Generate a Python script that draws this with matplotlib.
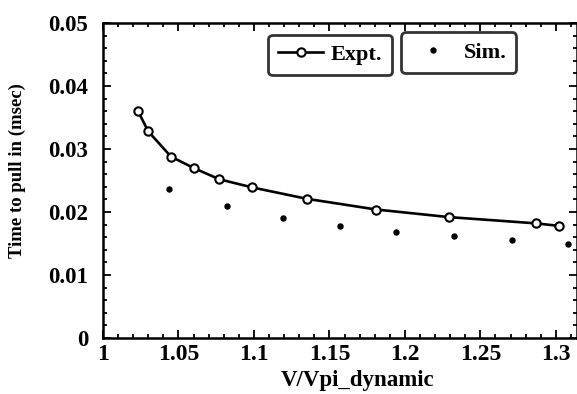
import matplotlib
matplotlib.use("Agg")
import matplotlib.pyplot as plt
from matplotlib.ticker import MultipleLocator

# Measured pull-in times
expt_v = [1.023, 1.030, 1.045, 1.060, 1.077, 1.099, 1.135, 1.181, 1.229, 1.287, 1.302]
expt_t = [0.0361, 0.0328, 0.0288, 0.0270, 0.0252, 0.0239, 0.0221, 0.0204, 0.0192, 0.0182, 0.0178]

# Simulated pull-in times
sim_v = [1.044, 1.082, 1.119, 1.157, 1.194, 1.2325, 1.271, 1.308]
sim_t = [0.0237, 0.0209, 0.0191, 0.0178, 0.0169, 0.0162, 0.0156, 0.0150]

x_ticks = [1.0, 1.05, 1.1, 1.15, 1.2, 1.25, 1.3]
x_tick_labels = ["1", "1.05", "1.1", "1.15", "1.2", "1.25", "1.3"]
y_ticks = [0.0, 0.01, 0.02, 0.03, 0.04, 0.05]
y_tick_labels = ["0", "0.01", "0.02", "0.03", "0.04", "0.05"]

plt.rcParams["font.family"] = ["Liberation Serif", "DejaVu Serif"]
plt.rcParams["font.weight"] = "bold"

fig = plt.figure(figsize=(5.77, 3.94), dpi=100)
ax = fig.add_axes([0.1785, 0.142, 0.8215, 0.7996])

line_expt, = ax.plot(expt_v, expt_t, color="black", lw=1.9, marker="o",
                     markersize=6, markerfacecolor="white",
                     markeredgecolor="black", markeredgewidth=1.5,
                     label="Expt.")
line_sim, = ax.plot(sim_v, sim_t, linestyle="none", marker="o",
                    markersize=3.6, color="black", label="Sim.")

ax.set_xlim(1.0, 1.314)
ax.set_ylim(0.0, 0.05)
ax.set_xticks(x_ticks)
ax.set_xticklabels(x_tick_labels)
ax.set_yticks(y_ticks)
ax.set_yticklabels(y_tick_labels)
ax.xaxis.set_minor_locator(MultipleLocator(0.01))
ax.yaxis.set_minor_locator(MultipleLocator(0.002))

ax.tick_params(which="both", direction="in", top=True, right=True, width=1.3)
ax.tick_params(axis="x", labelsize=17, pad=4)
ax.tick_params(axis="y", labelsize=16.5, pad=10.5)
ax.tick_params(which="major", length=6)
ax.tick_params(which="minor", length=3)
for lbl in ax.get_xticklabels() + ax.get_yticklabels():
    lbl.set_fontweight("bold")
for sp in ax.spines.values():
    sp.set_linewidth(1.8)

ax.set_xlabel("V/Vpi_dynamic", fontsize=16.5, fontweight="bold")
ax.xaxis.set_label_coords(0.538, -0.1)
ax.set_ylabel("Time to pull in (msec)", fontsize=13.5, fontweight="bold")
ax.yaxis.set_label_coords(-0.162, 0.533)

leg_kw = dict(fontsize=16, frameon=True, fancybox=True, borderpad=0.45,
              handlelength=2.0, handletextpad=0.35, borderaxespad=0.0,
              loc="upper left")
leg1 = ax.legend(handles=[line_expt], bbox_to_anchor=(0.349, 0.963), **leg_kw)
leg1.get_frame().set_edgecolor("black")
leg1.get_frame().set_linewidth(2.0)
ax.add_artist(leg1)
leg2 = ax.legend(handles=[line_sim], bbox_to_anchor=(0.629, 0.97), **leg_kw)
leg2.get_frame().set_edgecolor("black")
leg2.get_frame().set_linewidth(2.0)

fig.savefig("out.png", dpi=100)
